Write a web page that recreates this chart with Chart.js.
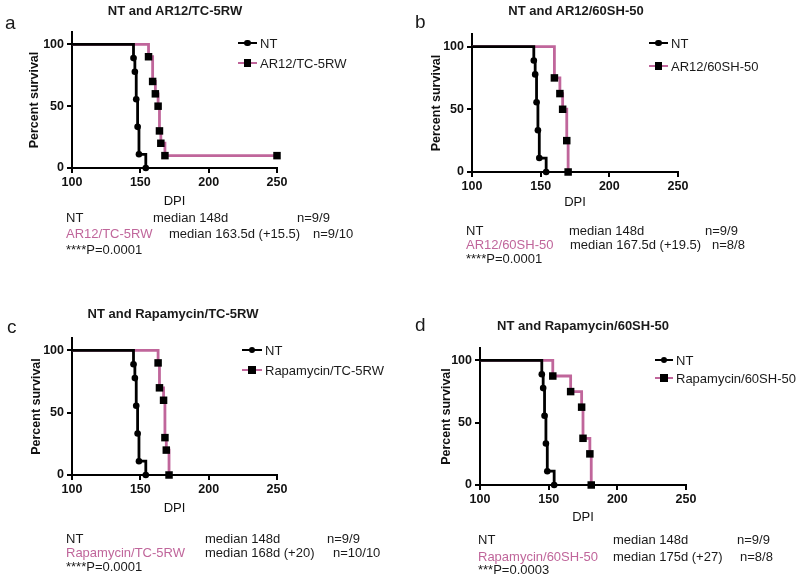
<!DOCTYPE html>
<html>
<head>
<meta charset="utf-8">
<script src="https://cdn.jsdelivr.net/npm/chart.js@4.4.0/dist/chart.umd.min.js"></script>
<style>
  body { margin: 0; background: #fff; }
  #wrap { position: relative; width: 800px; height: 577px; overflow: hidden;
          font-family: "Liberation Sans", Arial, sans-serif; color: #1a1a1a; }
  canvas { position: absolute; left: 0; top: 0; }
  .t { position: absolute; white-space: nowrap; line-height: 1; transform: translateY(-50%); font-size: 13px; }
  .ttl { font-weight: bold; font-size: 13px; transform: translate(-50%, -50%); }
  .let { font-size: 19px; }
  .pink { color: #c0669b; }
  .lg { position: absolute; height: 0; }
  .lg .ln { position: absolute; left: 0; top: -1.4px; height: 2.8px; }
  .lg .mk { position: absolute; background: #000; }
</style>
</head>
<body>
<div id="wrap"></div>
<script>
// Kaplan-Meier steps: day of event and % survival after it (first point = start)
const ntDays = [100, 145, 146, 147, 148, 149, 154];
const ntSurv = [100, 88.9, 77.8, 55.6, 33.3, 11.1, 0];

const arTcDays = [100, 156, 159, 161, 163, 164, 165, 168, 250];
const arTcSurv = [100, 90, 70, 60, 50, 30, 20, 10, 10];

const ar60Days = [100, 160, 164, 166, 169, 170];
const ar60Surv = [100, 75, 62.5, 50, 25, 0];

const rapTcDays = [100, 163, 164, 167, 168, 169, 171];
const rapTcSurv = [100, 90, 70, 60, 30, 20, 0];

const rap60Days = [100, 153, 166, 174, 175, 180, 181];
const rap60Surv = [100, 87.5, 75, 62.5, 37.5, 25, 0];

const xTicks = [100, 150, 200, 250];
const yTicks = [0, 50, 100];

const PINK = '#c0669b';
const FONT = '"Liberation Sans", Arial, sans-serif';

// panel layout (pixel boxes) + text
const panels = [
  { letter: 'a', title: 'NT and AR12/TC-5RW', name: 'AR12/TC-5RW', days: arTcDays, surv: arTcSurv,
    area: { l: 72, r: 277, t: 32, b: 168 }, yTitleX: 35, dpiY: 201,
    titlePos: [175, 10], letterPos: [5, 22],
    legend: { x: 238, y: [43, 63], w: 19 },
    rows: [217, 233, 249], cols: [66, 153, 297], cols2: [66, 169, 313],
    median: 'median 163.5d (+15.5)', n: 'n=9/10', p: '****P=0.0001' },
  { letter: 'b', title: 'NT and AR12/60SH-50', name: 'AR12/60SH-50', days: ar60Days, surv: ar60Surv,
    area: { l: 472, r: 678, t: 34, b: 172 }, yTitleX: 437, dpiY: 202,
    titlePos: [576, 10], letterPos: [415, 21],
    legend: { x: 649, y: [43, 66], w: 19 },
    rows: [230, 244, 258], cols: [466, 569, 705], cols2: [466, 570, 712],
    median: 'median 167.5d (+19.5)', n: 'n=8/8', p: '****P=0.0001' },
  { letter: 'c', title: 'NT and Rapamycin/TC-5RW', name: 'Rapamycin/TC-5RW', days: rapTcDays, surv: rapTcSurv,
    area: { l: 72, r: 277, t: 338, b: 475 }, yTitleX: 37, dpiY: 508,
    titlePos: [173, 313], letterPos: [7, 326],
    legend: { x: 242, y: [350, 370], w: 20 },
    rows: [538, 552, 566], cols: [66, 205, 327], cols2: [66, 205, 333],
    median: 'median 168d (+20)', n: 'n=10/10', p: '****P=0.0001' },
  { letter: 'd', title: 'NT and Rapamycin/60SH-50', name: 'Rapamycin/60SH-50', days: rap60Days, surv: rap60Surv,
    area: { l: 480, r: 686, t: 348, b: 485 }, yTitleX: 447, dpiY: 517,
    titlePos: [583, 325], letterPos: [415, 324],
    legend: { x: 655, y: [360, 378], w: 18 },
    rows: [539, 556, 569], cols: [478, 613, 737], cols2: [478, 613, 740],
    median: 'median 175d (+27)', n: 'n=8/8', p: '***P=0.0003' }
];

const wrap = document.getElementById('wrap');

function addText(txt, x, y, cls) {
  const d = document.createElement('div');
  d.className = 't ' + (cls || '');
  d.textContent = txt;
  d.style.left = x + 'px';
  d.style.top = y + 'px';
  wrap.appendChild(d);
  return d;
}

function addLegend(x, y, w, color, square) {
  const g = document.createElement('div');
  g.className = 'lg';
  g.style.left = x + 'px';
  g.style.top = y + 'px';
  const ln = document.createElement('div');
  ln.className = 'ln';
  ln.style.width = w + 'px';
  ln.style.background = color;
  const mk = document.createElement('div');
  mk.className = 'mk';
  const s = square ? 7.5 : 6.5;
  mk.style.width = s + 'px';
  mk.style.height = s + 'px';
  mk.style.left = (w / 2 - s / 2) + 'px';
  mk.style.top = (-s / 2) + 'px';
  if (!square) mk.style.borderRadius = '50%';
  g.appendChild(ln);
  g.appendChild(mk);
  wrap.appendChild(g);
}

const toXY = (xs, ys) => xs.map((x, i) => ({ x: x, y: ys[i] }));

panels.forEach(p => {
  const cv = document.createElement('canvas');
  cv.width = 800; cv.height = 577;
  wrap.appendChild(cv);

  const yBox = p.yTitleX - 7.5;   // title centre = box left + lineHeight/2
  const xBox = p.dpiY + 7.8;

  new Chart(cv, {
    type: 'line',
    data: {
      datasets: [{
        label: 'NT',
        data: toXY(ntDays, ntSurv),
        borderColor: '#000',
        borderWidth: 2.8,
        stepped: 'before',
        pointStyle: 'circle',
        pointRadius: c => c.dataIndex === 0 ? 0 : 3.3,
        pointBackgroundColor: '#000',
        pointBorderColor: '#000',
        pointBorderWidth: 0,
        clip: false
      }, {
        label: p.name,
        data: toXY(p.days, p.surv),
        borderColor: PINK,
        borderWidth: 2.8,
        stepped: 'before',
        pointStyle: 'rect',
        pointRadius: c => c.dataIndex === 0 ? 0 : 5.3,
        pointBackgroundColor: '#000',
        pointBorderColor: '#000',
        pointBorderWidth: 0,
        clip: false
      }]
    },
    options: {
      responsive: false,
      animation: false,
      events: [],
      layout: { padding: { left: yBox, top: p.area.t, right: 800 - p.area.r, bottom: 577 - xBox } },
      plugins: { legend: { display: false }, tooltip: { enabled: false } },
      scales: {
        x: {
          type: 'linear', min: 100, max: 250,
          afterBuildTicks: s => { s.ticks = xTicks.map(v => ({ value: v })); },
          afterFit: s => { s.height = xBox - p.area.b; },
          grid: { drawOnChartArea: false, tickLength: 5, color: '#000', lineWidth: 2 },
          border: { color: '#000', width: 2 },
          ticks: { color: '#111', padding: 2, maxRotation: 0, font: { family: FONT, size: 12.5, weight: 'bold' } },
          title: { display: true, text: 'DPI', color: '#111', padding: 0, font: { family: FONT, size: 13 } }
        },
        y: {
          type: 'linear', min: 0, max: 110,
          afterBuildTicks: s => { s.ticks = yTicks.map(v => ({ value: v })); },
          afterFit: s => { s.width = p.area.l - yBox; },
          grid: { drawOnChartArea: false, tickLength: 5, color: '#000', lineWidth: 2 },
          border: { color: '#000', width: 2 },
          ticks: { color: '#111', padding: 3, font: { family: FONT, size: 12.5, weight: 'bold' } },
          title: { display: true, text: 'Percent survival', color: '#111', padding: 0,
                   font: { family: FONT, size: 12.5, weight: 'bold' } }
        }
      }
    }
  });

  addText(p.title, p.titlePos[0], p.titlePos[1], 'ttl');
  addText(p.letter, p.letterPos[0], p.letterPos[1], 'let');

  addLegend(p.legend.x, p.legend.y[0], p.legend.w, '#000', false);
  addLegend(p.legend.x, p.legend.y[1], p.legend.w, PINK, true);
  addText('NT', p.legend.x + p.legend.w + 3, p.legend.y[0]);
  addText(p.name, p.legend.x + p.legend.w + 3, p.legend.y[1]);

  addText('NT', p.cols[0], p.rows[0]);
  addText('median 148d', p.cols[1], p.rows[0]);
  addText('n=9/9', p.cols[2], p.rows[0]);
  addText(p.name, p.cols2[0], p.rows[1], 'pink');
  addText(p.median, p.cols2[1], p.rows[1]);
  addText(p.n, p.cols2[2], p.rows[1]);
  addText(p.p, p.cols[0], p.rows[2]);
});
</script>
</body>
</html>
